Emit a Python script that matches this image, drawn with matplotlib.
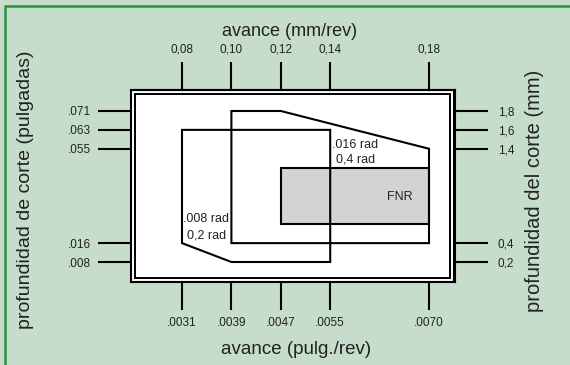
import matplotlib
matplotlib.use("Agg")
import matplotlib.pyplot as plt
from matplotlib.patches import Polygon, Rectangle
from matplotlib.lines import Line2D

plt.rcParams['font.family'] = ['Liberation Sans', 'DejaVu Sans']

# ---- data ----
feed_mm_ticks = [0.08, 0.10, 0.12, 0.14, 0.18]
feed_mm_labels = ['0,08', '0,10', '0,12', '0,14', '0,18']
feed_in_labels = ['.0031', '.0039', '.0047', '.0055', '.0070']
depth_mm_ticks = [1.8, 1.6, 1.4, 0.4, 0.2]
depth_mm_labels = ['1,8', '1,6', '1,4', '0,4', '0,2']
depth_in_labels = ['.071', '.063', '.055', '.016', '.008']

# region for .008 rad / 0,2 rad insert (feed mm/rev, depth mm)
region_008_feed = [0.08, 0.14, 0.14, 0.10, 0.08]
region_008_depth = [1.6, 1.6, 0.2, 0.2, 0.4]
# region for .016 rad / 0,4 rad insert
region_016_feed = [0.10, 0.12, 0.18, 0.18, 0.10]
region_016_depth = [1.8, 1.8, 1.4, 0.4, 0.4]
# FNR region
fnr_feed = [0.12, 0.18]
fnr_depth = [0.6, 1.2]

BG = '#c6ddcb'
GREEN = '#2a9245'
TXT = '#222222'

W, H = 570, 365
fig = plt.figure(figsize=(W / 100, H / 100), dpi=100)
fig.patch.set_facecolor(BG)

# green frame (top and left)
fig.add_artist(Line2D([5 / W, 1], [(H - 6) / H, (H - 6) / H], color=GREEN, lw=1.8,
                      transform=fig.transFigure, solid_capstyle='butt'))
fig.add_artist(Line2D([5 / W, 5 / W], [0, (H - 5) / H], color=GREEN, lw=1.8,
                      transform=fig.transFigure, solid_capstyle='butt'))

ax_l, ax_r, ax_t, ax_b = 131, 454.5, 90, 282
aw, ah = ax_r - ax_l, ax_b - ax_t
ax = fig.add_axes([ax_l / W, (H - ax_b) / H, aw / W, ah / H])
ax.set_facecolor('white')
ax.set_xlim(0.05935, 0.19032)
ax.set_ylim(-0.0119, 2.0225)
for s in ax.spines.values():
    s.set_linewidth(1.5)
    s.set_color('black')

# inner border
ax.add_patch(Rectangle((4 / aw, 4 / ah), 1 - 8.5 / aw, 1 - 8.3 / ah, transform=ax.transAxes,
                       fill=False, lw=1.4, ec='black', clip_on=False))

# bottom / left (inches)
ax.set_xticks(feed_mm_ticks)
ax.set_xticklabels(feed_in_labels)
ax.set_yticks(depth_mm_ticks)
ax.set_yticklabels(depth_in_labels)
ax.tick_params(axis='x', direction='out', length=20, width=1.5, pad=5.5,
               labelsize=8.5, labelcolor=TXT, color='black')
ax.tick_params(axis='y', direction='out', length=23.8, width=1.5, pad=5,
               labelsize=8.5, labelcolor=TXT, color='black')

# top / right (mm)
secx = ax.secondary_xaxis('top')
secx.set_xticks(feed_mm_ticks)
secx.set_xticklabels(feed_mm_labels)
secx.tick_params(direction='out', length=20, width=1.5, pad=5,
                 labelsize=8.5, labelcolor=TXT, color='black')
secx.spines['top'].set_linewidth(1.5)
secy = ax.secondary_yaxis('right')
secy.set_yticks(depth_mm_ticks)
secy.set_yticklabels(depth_mm_labels)
secy.tick_params(direction='out', length=23.8, width=1.5, pad=7.5,
                 labelsize=8.5, labelcolor=TXT, color='black')
secy.spines['right'].set_linewidth(1.5)

# regions
ax.add_patch(Rectangle((fnr_feed[0], fnr_depth[0]), fnr_feed[1] - fnr_feed[0],
                       fnr_depth[1] - fnr_depth[0], fc='#d3d3d3', ec='black', lw=1.5, zorder=2))
ax.add_patch(Polygon(list(zip(region_008_feed, region_008_depth)), closed=True, fill=False,
                     ec='black', lw=1.5, joinstyle='miter', zorder=3))
ax.add_patch(Polygon(list(zip(region_016_feed, region_016_depth)), closed=True, fill=False,
                     ec='black', lw=1.5, joinstyle='miter', zorder=3))

ax.text(0.1407, 1.44, '.016 rad', fontsize=9, color=TXT, ha='left', va='center', zorder=4)
ax.text(0.1423, 1.281, '0,4 rad', fontsize=9, color=TXT, ha='left', va='center', zorder=4)
ax.text(0.0806, 0.652, '.008 rad', fontsize=9, color=TXT, ha='left', va='center', zorder=4)
ax.text(0.0820, 0.486, '0,2 rad', fontsize=9, color=TXT, ha='left', va='center', zorder=4)
ax.text(0.1683, 0.885, 'FNR', fontsize=9, color=TXT, ha='center', va='center', zorder=4)

# axis titles
fig.text(290 / W, (H - 31) / H, 'avance (mm/rev)', fontsize=13, color=TXT, ha='center', va='center')
fig.text(296 / W, (H - 350) / H, 'avance (pulg./rev)', fontsize=13.5, color=TXT, ha='center', va='center')
fig.text(26 / W, (H - 190) / H, 'profundidad de corte (pulgadas)', fontsize=14, color=TXT,
         ha='center', va='center', rotation=90)
fig.text(535 / W, (H - 190.5) / H, 'profundidad del corte (mm)', fontsize=14.5, color=TXT,
         ha='center', va='center', rotation=90)

fig.savefig('out.png', dpi=100, facecolor=fig.get_facecolor())
